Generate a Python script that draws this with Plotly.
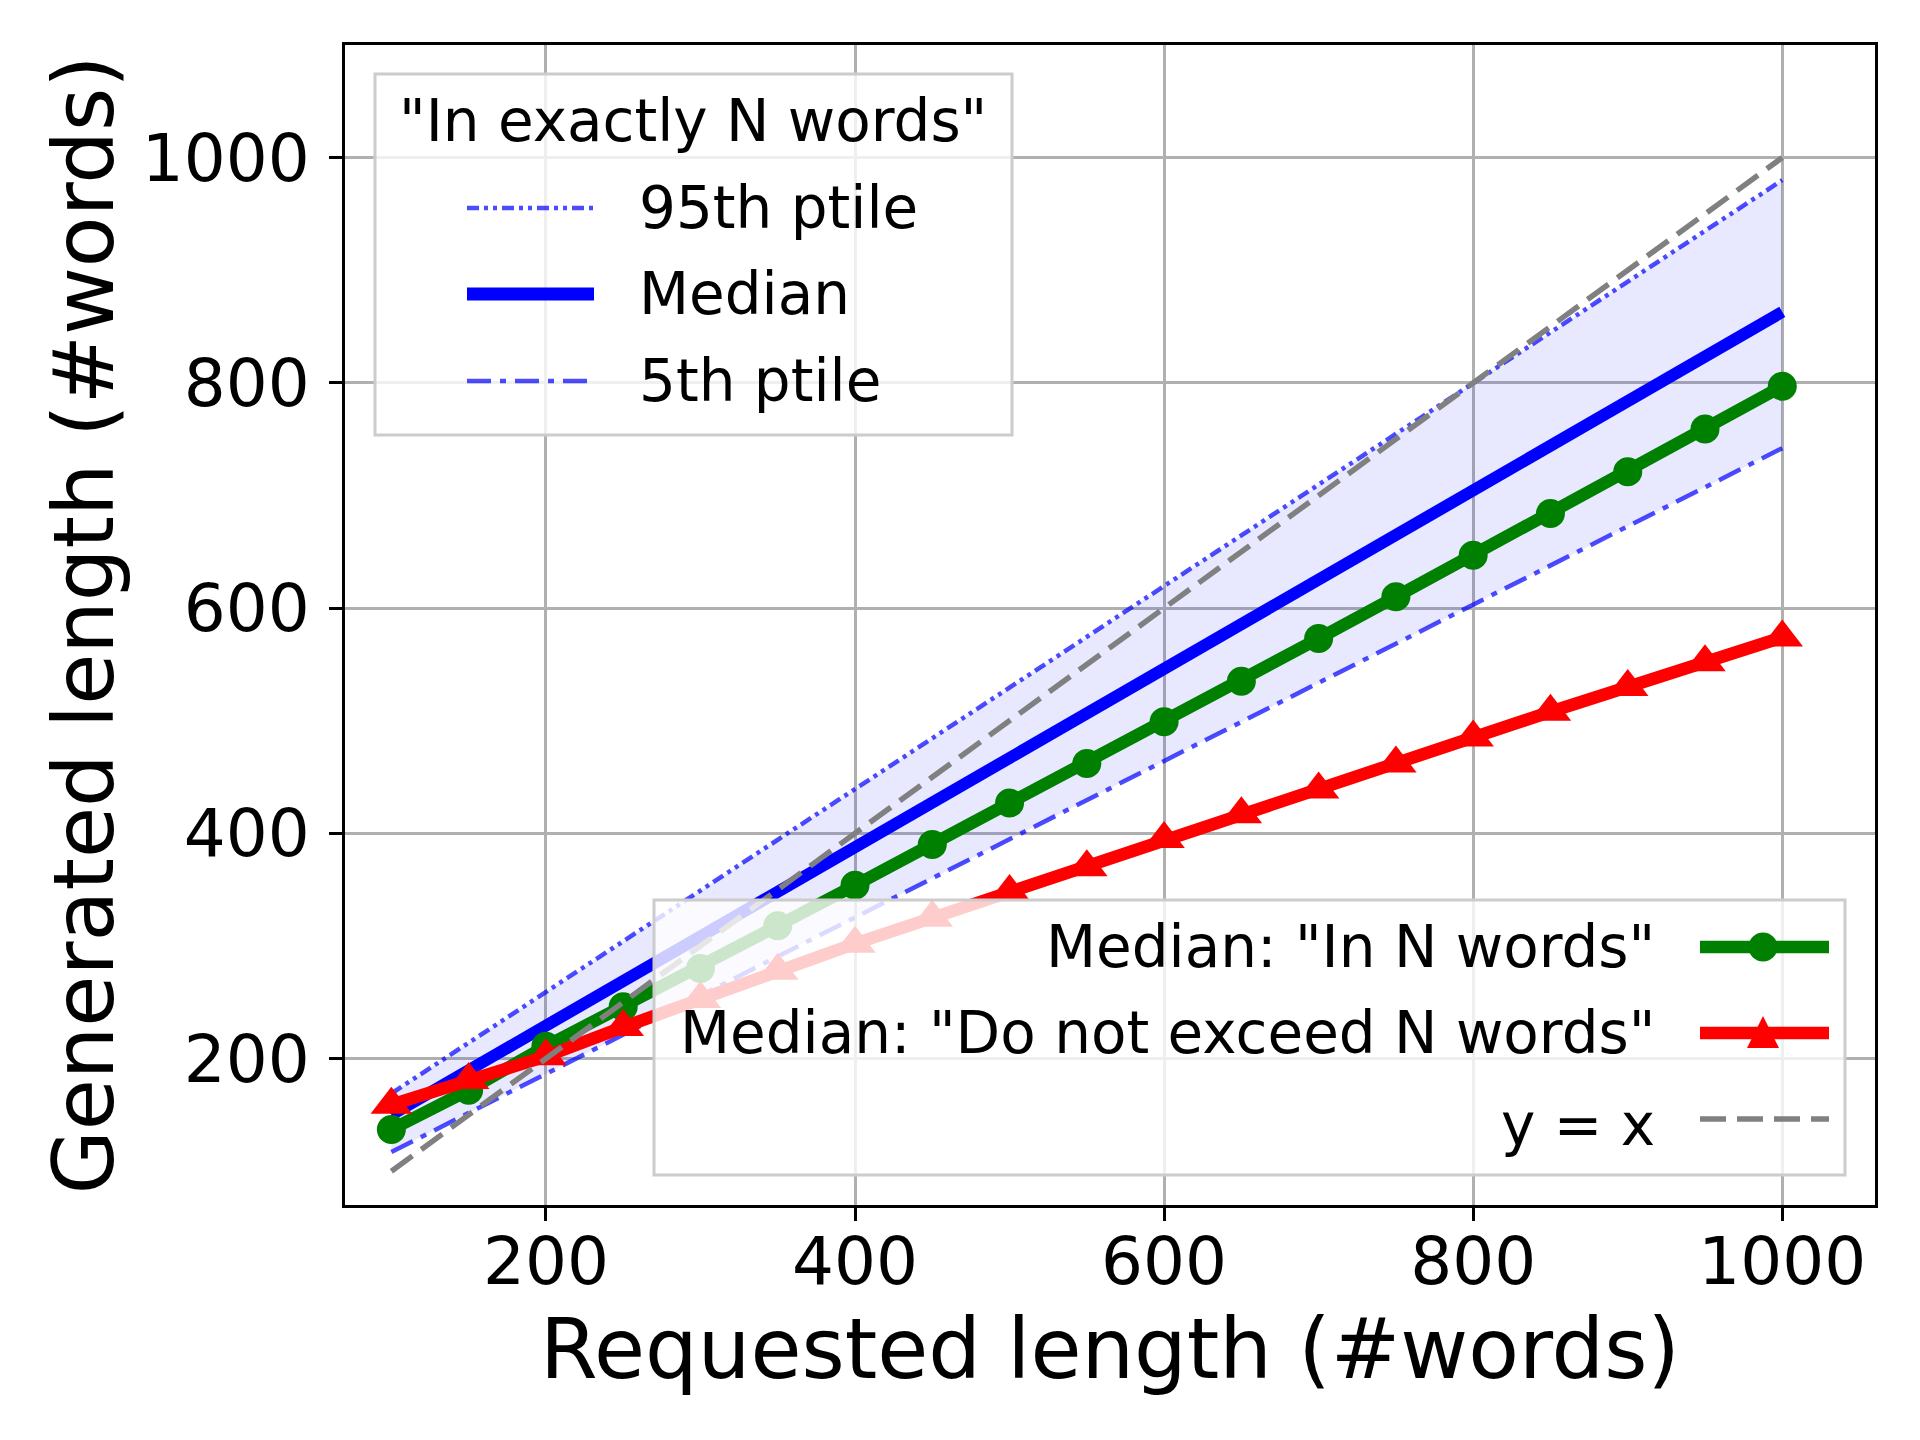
import plotly.graph_objects as go

# requested length (x) for the measured series
requested = [100, 150, 200, 250, 300, 350, 400, 450, 500, 550,
             600, 650, 700, 750, 800, 850, 900, 950, 1000]
median_in_n = [137, 172, 211, 246, 280, 318, 354, 390, 427, 462,
               499, 535, 573, 610, 647, 684, 721, 759, 797]
median_not_exceed = [159, 181, 202, 228, 253, 278, 302, 325, 348, 370,
                     395, 417, 439, 462, 485, 508, 530, 552, 574]

# "In exactly N words" band (straight lines, read at the ends)
band_x = [100, 1000]
p95 = [169, 980]
p50 = [150, 863]
p05 = [117, 742]

diag = [100, 1000]

x_ticks = [200, 400, 600, 800, 1000]
y_ticks = [200, 400, 600, 800, 1000]

FONT = "DejaVu Sans"
# the page body has an 8px margin, so the figure is a bit smaller than the window
OFF = 8
W, H = 1920 - OFF, 1440 - OFF
PL, PT = 345, 45          # plot area corner in page pixels
PW, PH = 1530, 1160
L, T = PL - OFF, PT - OFF
R, B = W - L - PW, H - T - PH


def px(x):
    return (x - PL) / PW


def py(y):
    return 1 - (y - PT) / PH


band_col = "rgba(0,0,255,0.7)"
DASH95 = "12px,5px,4px,5px,4px,5px"
DASH05 = "24px,9px,6px,9px"
DASHXY = "26px,11px"

fig = go.Figure()

# shaded band between 5th and 95th ptile
fig.add_trace(go.Scatter(x=band_x, y=p05, mode="lines", line=dict(width=0), hoverinfo="skip"))
fig.add_trace(go.Scatter(x=band_x, y=p95, mode="lines", line=dict(width=0),
                         fill="tonexty", fillcolor="rgba(0,0,255,0.09)", hoverinfo="skip"))

fig.add_trace(go.Scatter(x=band_x, y=p95, mode="lines", name="95th ptile",
                         line=dict(color=band_col, width=4.5, dash=DASH95)))
fig.add_trace(go.Scatter(x=band_x, y=p50, mode="lines", name="Median",
                         line=dict(color="blue", width=12)))
fig.add_trace(go.Scatter(x=band_x, y=p05, mode="lines", name="5th ptile",
                         line=dict(color=band_col, width=4.5, dash=DASH05)))

fig.add_trace(go.Scatter(x=requested, y=median_in_n, mode="lines+markers",
                         name='Median: "In N words"',
                         line=dict(color="green", width=12.5),
                         marker=dict(symbol="circle", size=29, color="green")))
fig.add_trace(go.Scatter(x=requested, y=median_not_exceed, mode="lines+markers",
                         name='Median: "Do not exceed N words"',
                         line=dict(color="red", width=12.5),
                         marker=dict(symbol="triangle-up", size=36, color="red")))
fig.add_trace(go.Scatter(x=diag, y=diag, mode="lines", name="y = x",
                         line=dict(color="gray", width=5.5, dash=DASHXY)))

# legends are drawn by hand (matplotlib look: handles on the right in the 2nd one)
shapes = []
annotations = []


def legend_text(text, x, y, anchor):
    annotations.append(dict(text=text, xref="paper", yref="paper", x=px(x), y=py(y),
                            xanchor=anchor, yanchor="middle", showarrow=False,
                            font=dict(family=FONT, size=58, color="black")))


def legend_box(x0, y0, x1, y1):
    shapes.append(dict(type="rect", xref="paper", yref="paper", layer="above",
                       x0=px(x0), x1=px(x1), y0=py(y1), y1=py(y0),
                       fillcolor="rgba(255,255,255,0.8)", line=dict(color="#cccccc", width=3)))


def legend_line(x0, x1, y, col, width, dash="solid"):
    shapes.append(dict(type="line", xref="paper", yref="paper", layer="above",
                       x0=px(x0), x1=px(x1), y0=py(y), y1=py(y),
                       line=dict(color=col, width=width, dash=dash)))


# legend 1: "In exactly N words"
legend_box(375, 74, 1012, 435)
annotations.append(dict(text='"In exactly N words"', xref="paper", yref="paper",
                        x=px(693), y=py(121), xanchor="center", yanchor="middle",
                        showarrow=False, font=dict(family=FONT, size=58, color="black")))
for label, yy, col, width, dash in [("95th ptile", 208, band_col, 4.5, DASH95),
                                    ("Median", 294, "blue", 13, "solid"),
                                    ("5th ptile", 381, band_col, 4.5, DASH05)]:
    legend_line(467, 594, yy, col, width, dash)
    legend_text(label, 637, yy, "left")

# legend 2: the two prompt medians and y = x
legend_box(654, 900, 1845, 1175)
entries = [('Median: "In N words"', 947, "green", "circle"),
           ('Median: "Do not exceed N words"', 1033, "red", "triangle"),
           ("y = x", 1125, "gray", None)]
for label, yy, col, sym in entries:
    legend_text(label, 1657, yy, "right")
    if sym is None:
        legend_line(1700, 1829, yy - 6, col, 5.5, DASHXY)
        continue
    legend_line(1700, 1829, yy, col, 12.5)
    if sym == "circle":
        shapes.append(dict(type="circle", xref="paper", yref="paper", layer="above",
                           xsizemode="pixel", ysizemode="pixel",
                           xanchor=px(1763), yanchor=py(yy),
                           x0=-14.5, x1=14.5, y0=-14.5, y1=14.5,
                           fillcolor=col, line=dict(width=0)))
    else:
        shapes.append(dict(type="path", xref="paper", yref="paper", layer="above",
                           xsizemode="pixel", ysizemode="pixel",
                           xanchor=px(1763), yanchor=py(yy),
                           path="M-16,-15 L16,-15 L0,17 Z",
                           fillcolor=col, line=dict(width=0)))

axis_common = dict(showline=True, linecolor="black", linewidth=3.3, mirror=True,
                   ticks="outside", ticklen=13, tickwidth=3.3, tickcolor="black",
                   showgrid=True, gridcolor="#b0b0b0", gridwidth=3.3, zeroline=False,
                   automargin=False,
                   tickfont=dict(family=FONT, size=66, color="black"))

fig.update_xaxes(range=[70, 1060], tickvals=x_ticks, ticklabelstandoff=-16, **axis_common,
                 title=dict(text="Requested length (#words)",
                            font=dict(family=FONT, size=83, color="black"), standoff=21))
fig.update_yaxes(range=[70, 1100], tickvals=y_ticks, ticklabelstandoff=6, **axis_common,
                 title=dict(text="Generated length (#words)",
                            font=dict(family=FONT, size=83, color="black"), standoff=1))

fig.update_layout(
    width=W, height=H,
    margin=dict(l=L, r=R, t=T, b=B),
    paper_bgcolor="white", plot_bgcolor="white",
    font=dict(family=FONT, color="black"),
    shapes=shapes, annotations=annotations,
    showlegend=False,
)

fig.write_html("out.html")
